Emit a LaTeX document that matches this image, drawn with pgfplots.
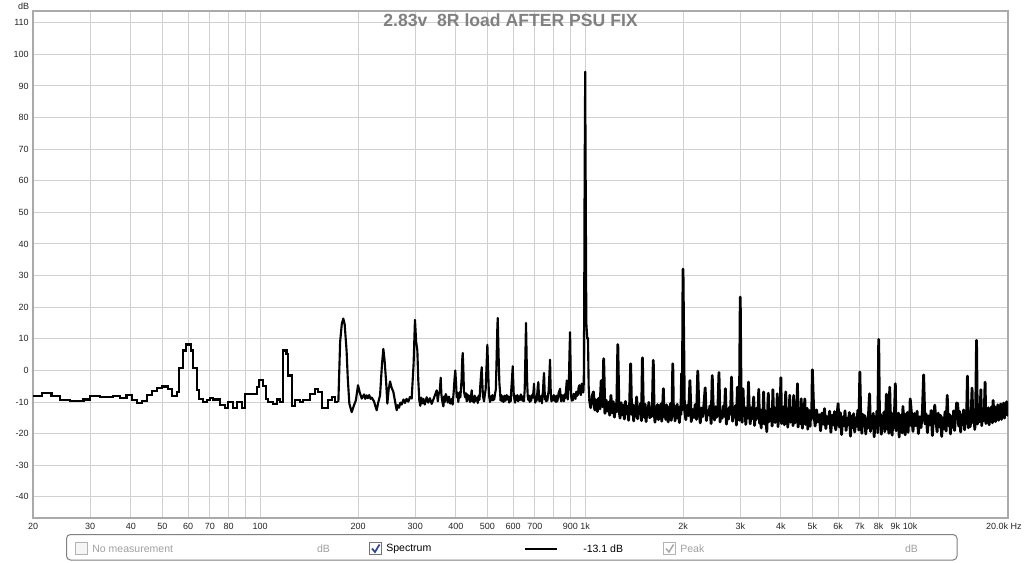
\documentclass[border=0pt]{standalone}
\usepackage{fontspec}
\setmainfont{Liberation Sans}
\usepackage{pgfplots}
\pgfplotsset{compat=1.18}

\definecolor{gridgray}{RGB}{208,208,208}
\definecolor{framegray}{RGB}{170,170,170}
\definecolor{titlegray}{RGB}{128,128,128}
\definecolor{faint}{RGB}{160,160,160}
\definecolor{checkblue}{RGB}{40,70,160}

% 1 px of the 1024x562 screen = 0.75pt
\begin{document}
\begin{tikzpicture}
\useasboundingbox (0,0) rectangle (768pt,-421.5pt);
\fill[white] (0,0) rectangle (768pt,-421.5pt);

\begin{axis}[
    at={(24.75pt,-388.5pt)}, anchor=south west,
    scale only axis,
    width=731.25pt, height=380.25pt,
    xmode=log,
    xmin=20, xmax=20000,
    ymin=-46.7, ymax=113.7,
    axis line style={draw=framegray, line width=1.6pt},
    grid=major,
    major grid style={draw=gridgray, line width=0.75pt},
    major tick length=0pt,
    tick style={draw=none},
    xtick={20,30,40,50,60,70,80,90,100,200,300,400,500,600,700,800,900,1000,2000,3000,4000,5000,6000,7000,8000,9000,10000},
    xticklabels={20,30,40,50,60,70,80,{},100,200,300,400,500,600,700,{},900,1k,2k,3k,4k,5k,6k,7k,8k,9k,10k},
    ytick={-40,-30,-20,-10,0,10,20,30,40,50,60,70,80,90,100,110},
    yticklabels={-40,-30,-20,-10,0,10,20,30,40,50,60,70,80,90,100,110},
    xticklabel style={font=\fontsize{6.75}{8}\selectfont, text=black!85, anchor=north, inner sep=0pt, yshift=-3.6pt},
    yticklabel style={font=\fontsize{6.75}{8}\selectfont, text=black!85, anchor=east, inner sep=0pt, xshift=-3pt},
]

% low end: FFT bins show as steps
\addplot[const plot, black, line width=1.6pt] coordinates {
(20,-8.2) (21.3,-7.2) (22.8,-8.2) (24.2,-9.5) (26.0,-9.7) (28.6,-9.2) (29.9,-8.2) (32.2,-8.4)
(35.3,-8.2) (37.1,-8.7) (38.8,-7.9) (40.3,-9.5) (41.7,-10.3) (43.2,-9.8) (44.8,-7.9) (46.4,-6.5)
(48.0,-5.6) (49.8,-5.1) (52.2,-6.0) (53.4,-8.2) (55.4,-6.8) (56.4,0.7) (57.8,6.3) (59.1,8.2)
(61.1,6.3) (62.2,0.7) (63.8,-6.1) (65.0,-9.0) (66.6,-10.0) (68.5,-9.5) (70.1,-8.6) (71.8,-9.2)
(75.2,-11.0) (77.9,-11.8) (79.8,-10.0) (82.7,-11.8) (84.7,-10.0) (87.7,-11.8) (89.8,-7.6) (97.6,-5.3)
(99.4,-3.0) (102.3,-4.8) (104.2,-9.0) (105.9,-10.0) (109.8,-10.5) (112.4,-9.2) (115.1,-10.0) (117.8,6.3)
(120.5,5.3) (122.0,-1.6) (125.0,-11.3) (128.0,-9.5) (132.6,-10.0) (135.7,-9.5) (142.3,-7.6) (147.5,-5.8)
(151.0,-6.8) (154.7,-11.8) (162.1,-9.5) (166.0,-8.4) (169.9,-10.0) (174.0,-10.0)
};

% 174 Hz to 1 kHz
\addplot[black, line width=1.6pt, line join=round] coordinates {
(174.0,-10.0) (176.2,9.0) (178.3,14.7) (180.2,16.4) (182.0,14.5) (184.5,6.0) (186.0,-2.5) (188.1,-10.5)
(191.2,-13.2) (194.4,-11.0) (197.0,-9.5) (200.0,-4.7) (202.5,-7.0) (205.3,-8.9) (208.8,-7.6) (210.5,-9.0)
(212.7,-7.9) (214.5,-8.8) (216.5,-7.8) (218.5,-9.0) (220.4,-8.6) (224.0,-9.8) (226,-11.2) (228.3,-12.6)
(231,-10.0) (233.8,-7.9) (237.0,2.0) (239.3,6.8) (241.5,3.0) (243.9,-3.2) (246.2,-10.5) (248.5,-6.0)
(250.9,-3.5) (253.8,-5.5) (256.9,-6.8) (260.0,-9.8) (263.0,-12.6) (265,-11.0) (267.5,-11.8) (270,-10.2)
(272.5,-10.8) (276,-9.2) (279.0,-10.3) (282,-9.0) (285.6,-9.9) (289,-8.4) (292.5,-8.9)
(296.5,2.0) (299.4,16.0) (302.0,9.0) (304.5,6.3) (306.5,-3.0) (308.8,-9.5) (311,-11.2) (313.0,-8.6)
(316,-10.4) (318.0,-9.0) (321,-10.8) (325.4,-8.5) (329,-10.2) (333.0,-8.8) (337,-10.6) (341.1,-9.2)
(345.0,-7.8) (349.3,-6.3) (352,-9.8) (354.0,-7.6) (357,-6.5) (359.3,-2.3) (361,-7.5) (363.0,-9.5)
(366.2,-11.4) (368,-8.2) (370.0,-10.0) (372.5,-7.5) (374.9,-8.4) (378,-10.2) (381.0,-8.3) (384.5,-10.5)
(388.4,-9.0) (391,-10.8) (394.0,-6.8) (396.5,-2.5) (398.5,0.0) (400.5,-4.0) (402.5,-8.5) (405,-7.2)
(407.1,-10.0) (410,-7.0) (413.0,-8.5) (416.5,-3.0) (418.5,3.5) (420.0,5.5) (421.8,0.5) (423.5,-6.5)
(426.9,-8.5) (429.5,-7.2) (432.0,-9.8) (434.5,-7.6) (437.0,-9.2) (439.5,-8.0) (442.0,-10.0) (445,-8.5)
(447.5,-6.3) (450,-9.8) (452.0,-8.4) (455,-10.2) (457.0,-8.0) (460,-9.6) (463.7,-8.6) (467,-10.3)
(470.0,-8.0) (473,-9.3) (475.5,-5.0) (478.5,-1.0) (480.4,1.0) (482.3,-3.5) (484.5,-8.0) (488.3,-9.8)
(491,-7.8) (494,-6.0) (497,1.0) (500.0,8.1) (502.5,1.0) (505,-6.0) (507,-8.5) (509.6,-10.0)
(512,-8.2) (515.0,-9.4) (518,-7.8) (520.0,-9.5) (523,-8.0) (525.0,-9.2) (528,-7.4) (531.0,-6.0)
(534,4.0) (536.5,13.0) (538.1,16.6) (540,10.0) (542.0,3.0) (544.5,-4.0) (546.9,-6.5) (549,-9.5)
(552.0,-7.8) (555,-9.8) (558.0,-8.2) (561,-10.0) (565.0,-8.0) (569,-9.6) (573.4,-7.8) (576.5,-9.2)
(580.0,-8.2) (583.5,-10.2) (587.0,-8.4) (590,-9.8) (592.5,-6.0) (596,-2.0) (598.4,1.3) (600.5,-3.0)
(603.0,-8.0) (605.5,-9.0) (608.4,-10.2) (611.5,-8.0) (615.0,-9.4) (618.5,-7.8) (622.0,-9.8) (626,-8.2)
(630.0,-9.4) (634,-7.6) (637.7,-8.4) (641,-9.6) (645.0,-8.2) (648,-9.8) (651.5,-6.0) (654.5,4.0)
(657.6,15.0) (660,6.0) (662.5,-3.0) (665.5,-8.0) (668.5,-9.4) (672,-8.0) (675.0,-10.0) (678.5,-8.2)
(682.0,-9.6) (686,-7.8) (690.0,-8.6) (693.5,-6.5) (696.0,-4.2) (698.5,-8.5) (702,-10.2) (706.0,-8.4)
(709,-9.6) (712.0,-7.4) (715,-5.0) (717.7,-3.7) (720.5,-8.0) (723.0,-9.8) (726.5,-8.2) (730.0,-9.2)
(733,-8.0) (736,-10.4) (739,-8.4) (742,-6.0) (744.5,-3.0) (747.2,-0.8) (749.5,-5.0) (752.0,-9.2)
(755,-8.0) (758.0,-9.8) (761.5,-8.2) (765.0,-9.6) (768.5,-7.8) (772.0,-6.5) (775.5,-2.0) (779.7,3.4)
(782,-3.5) (784.5,-8.6) (788,-9.8) (792,-8.2) (796,-9.4) (800,-7.8) (805.0,-9.6) (809,-8.2)
(813,-10.0) (817,-8.0) (821,-9.8) (825,-8.4) (829,-7.0) (833,-6.5) (836.9,-5.8) (840,-8.6)
(844,-9.8) (848.0,-7.8) (852,-9.4) (856,-8.0) (860,-9.8) (864,-7.6) (868,-8.8) (872,-6.8)
(875,-5.0) (877.6,-3.2) (880,-7.5) (884,-9.2) (888,-6.6) (891,-4.0) (894.5,5.0) (898.4,12.1)
(901,4.0) (903.5,-4.0) (906,-8.5) (910,-9.6) (914,-8.0) (918,-9.4) (922,-7.4) (926,-8.8)
(930,-7.6) (934,-9.0) (938,-6.8) (942,-8.2) (946,-6.6) (950,-7.8) (954,-5.6) (957,-5.0)
(959.7,-4.7) (962,-7.2) (966,-6.0) (970,-7.8) (974,-5.0) (976,-4.2) (979,-6.8) (983,-5.4)
(987,-7.0) (990,-4.0) (993.0,20.0) (996.0,60.0) (1000.0,94.5) (1004.0,55.0) (1008.0,15.0) (1015.0,10.0)
(1020.0,10.2) (1025.0,-5.0) (1030,-9.0)
};

% 1 kHz to 20 kHz: dense noise floor with harmonics
\addplot[black, line width=2.1pt, line join=round] coordinates {
(1030,-9.0) (1040,-11.8) (1050,-8.2) (1060,-6.8) (1070,-12.5) (1080,-9.3) (1090,-13.0) (1100,-8.8)
(1110,-12.2) (1120,-3.2) (1130,-11.5) (1140,3.7) (1150,-13.6) (1160,-9.4) (1170,-12.9) (1180,-10.1)
(1190,-14.2) (1200,-7.9) (1210,-13.4) (1220,-9.9) (1230,-14.8) (1240,-10.6) (1250,-13.1) (1260,8.2)
(1270,-12.0) (1280,-15.1) (1290,-10.2) (1300,-14.0) (1310,-11.0) (1320,-15.4) (1330,-9.8) (1340,-13.7)
(1350,-11.4) (1360,-15.8) (1370,-10.5) (1380,2.1) (1390,-13.9) (1400,-10.8) (1410,-16.0) (1420,-11.2)
(1430,-14.4) (1440,-8.4) (1450,-15.3) (1460,-11.6) (1470,-13.2) (1480,-10.4) (1490,-15.9) (1500,4.0)
(1510,-12.6) (1520,-14.9) (1530,-10.7) (1540,-16.2) (1550,-11.9) (1560,-13.6) (1570,-10.1) (1580,-15.0)
(1590,-12.3) (1600,-14.6) (1610,-10.9) (1620,3.2) (1630,-13.3) (1640,-16.4) (1650,-11.5) (1660,-14.1)
(1670,-10.8) (1680,-15.6) (1690,-12.0) (1700,-13.8) (1710,-10.6) (1720,-16.1) (1730,-12.4) (1740,-5.8)
(1750,-14.7) (1760,-11.3) (1770,-15.5) (1780,-10.9) (1790,-13.5) (1800,-16.3) (1810,-11.7) (1820,-14.2)
(1830,-10.5) (1840,-15.8) (1850,-12.6) (1860,2.1) (1870,-14.4) (1880,-11.1) (1890,-16.0) (1900,-12.2)
(1910,-13.9) (1920,-10.7) (1930,-15.2) (1940,-12.8) (1950,-16.5) (1960,-11.4) (1970,-14.0) (1980,-1.0)
(1990,-12.5) (2000,32.1)
(2020,-12.1) (2040,-15.6) (2060,-11.0) (2080,-14.3) (2100,-3.2) (2120,-16.2) (2140,-12.4) (2160,-14.9)
(2180,-10.8) (2200,-15.5) (2220,-0.2) (2240,-13.1) (2260,-16.6) (2280,-11.9) (2300,-14.6) (2320,-10.6)
(2340,-5.5) (2360,-15.9) (2380,-12.7) (2400,-14.0) (2420,-11.2) (2440,-16.8) (2460,-1.6) (2480,-13.4)
(2500,-15.7) (2520,-11.5) (2540,-14.8) (2560,-12.0) (2580,-0.7) (2600,-16.3) (2620,-12.9) (2640,-15.1)
(2660,-11.3) (2680,-14.5) (2700,-5.8) (2720,-17.0) (2740,-12.2) (2760,-15.4) (2780,-11.6) (2800,-13.8)
(2820,-2.1) (2840,-16.1) (2860,-12.6) (2880,-14.7) (2900,-11.1) (2920,-17.3) (2940,-5.3) (2960,-13.0)
(2980,-15.8) (3000,23.2) (3020,-12.3) (3040,-16.4) (3060,-5.8) (3080,-14.2) (3100,-11.7) (3120,-17.1)
(3140,-12.8) (3160,-15.0) (3180,-3.7) (3200,-13.6) (3220,-16.9) (3240,-11.9) (3260,-15.3) (3280,-12.5)
(3300,-8.4) (3320,-17.4) (3340,-13.2) (3360,-15.6) (3380,-11.8) (3400,-14.9) (3420,-6.0) (3440,-16.7)
(3460,-12.4) (3480,-18.2) (3500,-13.1) (3520,-15.5) (3540,-6.8) (3560,-17.0) (3580,-12.7) (3600,-14.4)
(3620,-19.4) (3640,-13.5) (3660,-7.2) (3680,-16.2) (3700,-12.1) (3720,-15.7) (3740,-13.3) (3760,-17.6)
(3780,-6.1) (3800,-14.1) (3820,-11.9) (3840,-16.5) (3860,-12.9) (3880,-15.2) (3900,-7.4) (3920,-17.8)
(3940,-13.0) (3960,-15.9) (3980,-12.2) (4000,-2.3) (4020,-16.8) (4040,-12.6) (4060,-14.6) (4080,-11.5)
(4100,-17.2) (4120,-13.4) (4140,-6.8) (4160,-15.1) (4180,-12.0) (4200,-18.0) (4220,-13.7) (4240,-15.8)
(4260,-7.9) (4280,-16.4) (4300,-12.3) (4320,-14.9) (4340,-11.7) (4360,-17.5) (4380,-7.9) (4400,-14.3)
(4420,-16.6) (4440,-12.5) (4460,-15.4) (4480,-13.1) (4500,-4.2) (4520,-17.9) (4540,-12.8) (4560,-15.0)
(4580,-11.9) (4600,-16.9) (4620,-9.0) (4640,-14.7) (4660,-18.3) (4680,-13.3) (4700,-15.6) (4720,-12.4)
(4740,-9.0) (4760,-17.1) (4780,-13.6) (4800,-15.2) (4820,-12.0) (4840,-18.6) (4860,-14.0) (4880,-16.0)
(4900,-12.7) (4920,-17.7) (4940,-13.9) (4960,-15.5) (4980,-12.2) (5000,0.2)
(5050,-13.2) (5100,-17.6) (5150,-12.5) (5200,-16.3) (5250,-14.0) (5300,-19.1) (5350,-13.5) (5400,-17.0)
(5450,-12.1) (5500,-18.4) (5550,-14.6) (5600,-16.8) (5650,-12.9) (5700,-19.6) (5750,-14.2) (5800,-17.3)
(5850,-13.0) (5900,-18.8) (5950,-14.9) (6000,-10.5) (6050,-17.9) (6100,-13.4) (6150,-20.3) (6200,-14.7)
(6250,-17.5) (6300,-12.8) (6350,-19.0) (6400,-15.1) (6450,-17.2) (6500,-13.3) (6550,-20.8) (6600,-14.4)
(6650,-18.1) (6700,-13.7) (6750,-19.5) (6800,-15.0) (6850,-17.7) (6900,-12.6) (6950,-18.9) (7000,-0.5)
(7050,-15.8) (7100,-19.9) (7150,-13.9) (7200,-17.4) (7250,-14.3) (7300,-20.1) (7350,-15.4) (7400,-18.3)
(7450,-13.1) (7500,-7.4) (7550,-19.3) (7600,-14.8) (7650,-17.9) (7700,-13.6) (7750,-21.0) (7800,-15.2)
(7850,-18.0) (7900,-12.9) (7950,-19.7) (8000,9.8) (8050,-16.6) (8100,-13.8) (8150,-20.2) (8200,-14.5)
(8250,-17.8) (8300,-13.2) (8350,-19.4) (8400,-15.5) (8450,-7.5) (8500,-18.6) (8550,-14.1) (8600,-19.9)
(8650,-5.3) (8700,-16.9) (8750,-13.4) (8800,-20.5) (8850,-14.9) (8900,-18.2) (8950,-12.8) (9000,-4.2)
(9050,-19.1) (9100,-14.6) (9150,-17.3) (9200,-13.5) (9250,-21.1) (9300,-15.3) (9350,-18.7) (9400,-14.0)
(9450,-19.8) (9500,-11.4) (9550,-17.0) (9600,-13.7) (9650,-20.4) (9700,-15.6) (9750,-18.4) (9800,-13.3)
(9850,-19.6) (9900,-14.8) (9950,-17.6) (10000,-9.0)
(10100,-14.1) (10200,-19.3) (10300,-13.6) (10400,-17.5) (10500,-12.9) (10600,-20.0) (10700,-14.7) (10800,-18.1)
(10900,-13.2) (11000,-1.4) (11100,-16.9) (11200,-13.8) (11300,-19.7) (11400,-14.4) (11500,-17.2) (11600,-12.7)
(11700,-20.6) (11800,-14.9) (11900,-11.0) (12000,-15.8) (12100,-19.4) (12200,-13.5) (12300,-17.9) (12400,-14.2)
(12500,-20.9) (12600,-15.0) (12700,-18.5) (12800,-13.1) (12900,-19.2) (13000,-7.9) (13100,-17.4) (13200,-13.9)
(13300,-20.1) (13400,-14.6) (13500,-18.0) (13600,-12.8) (13700,-19.0) (13800,-14.3) (13900,-10.3) (14000,-10.5)
(14100,-17.6) (14200,-13.0) (14300,-19.5) (14400,-14.1) (14500,-17.1) (14600,-12.5) (14700,-18.8) (14800,-13.7)
(14900,-16.7) (15000,-1.8) (15100,-18.2) (15200,-12.9) (15300,-17.8) (15400,-14.0) (15500,-5.6) (15600,-16.5)
(15700,-12.4) (15800,-18.7) (15900,-13.5) (16000,9.5) (16100,-17.0) (16200,-12.2) (16300,-16.3) (16400,-13.9)
(16500,-6.1) (16600,-17.5) (16700,-12.6) (16800,-15.9) (16900,-13.3) (17000,-3.7) (17100,-16.8) (17200,-12.1)
(17300,-15.6) (17400,-11.8) (17500,-17.2) (17600,-12.9) (17700,-15.3) (17800,-11.5) (17900,-16.6) (18000,-9.5)
(18100,-15.0) (18200,-11.4) (18300,-16.2) (18400,-12.3) (18500,-14.6) (18600,-10.9) (18700,-15.8) (18800,-11.7)
(18900,-14.3) (19000,-10.6) (19100,-15.5) (19200,-11.2) (19300,-13.9) (19400,-10.3) (19500,-15.1) (19600,-11.0)
(19700,-13.6) (19800,-9.9) (19900,-14.2) (20000,-10.0)
};
\end{axis}

% screen pixels from here on
\begin{scope}[x=0.75pt, y=-0.75pt]
\node[font=\bfseries\fontsize{13.2}{15}\selectfont, text=titlegray, inner sep=0pt] at (510.5,20.3) {2.83v\ \ 8R load AFTER PSU FIX};
\node[font=\fontsize{6.75}{8}\selectfont, text=black!85, anchor=north east, inner sep=0pt] at (29.5,2.4) {dB};
\node[font=\fontsize{6.75}{8}\selectfont, text=black!85, anchor=north east, inner sep=0pt] at (1022,522.8) {20.0k Hz};

% legend strip
\draw[black!50, line width=0.75pt, rounded corners=3pt] (66.5,534.5) rectangle (957,560);
\begin{scope}[font=\fontsize{7.9}{9}\selectfont]
\draw[black!30, fill=black!4, line width=0.75pt] (75.5,542.5) rectangle (87.5,554.5);
\node[anchor=west, inner sep=0pt, text=faint] at (92,548.5) {No measurement};
\node[inner sep=0pt, text=faint] at (323.5,548.5) {dB};
\draw[black!55, fill=white, line width=0.75pt] (369.5,542.5) rectangle (381.5,554.5);
\draw[checkblue, line width=1.3pt] (372,548.5) -- (375,552) -- (379.5,544.5);
\node[anchor=west, inner sep=0pt] at (386,548.5) {Spectrum};
\draw[black, line width=1.5pt] (525,548.5) -- (557,548.5);
\node[anchor=west, inner sep=0pt] at (583,548.5) {-13.1 dB};
\draw[black!30, fill=white, line width=0.75pt] (663.5,542.5) rectangle (675.5,554.5);
\draw[black!35, line width=1.1pt] (666,548.5) -- (669,552) -- (673.5,544.5);
\node[anchor=west, inner sep=0pt, text=faint] at (680,548.5) {Peak};
\node[inner sep=0pt, text=faint] at (911.5,548.5) {dB};
\end{scope}
\end{scope}
\end{tikzpicture}
\end{document}
